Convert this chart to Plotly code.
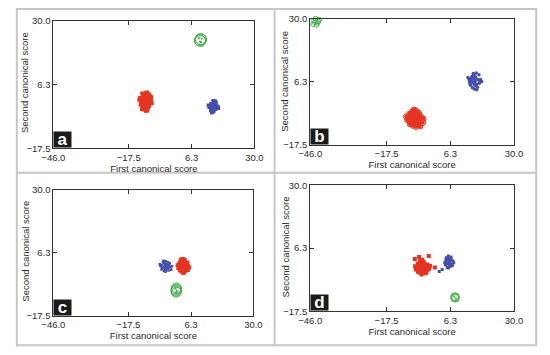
import plotly.graph_objects as go

# ---------------- data (canonical scores) ----------------
TICK_VALS = [-46.0, -17.5, 6.3, 30.0]
TICK_TEXT = ["\u221246.0", "\u221217.5", "6.3", "30.0"]
X_RANGE = [-46.0, 30.0]
Y_RANGE = [-17.5, 30.0]
PANEL_LABELS = ["a", "b", "c", "d"]
X_TITLE = "First canonical score"
Y_TITLE = "Second canonical score"

# panel a
A_RED_X = [-11.0,-10.2,-11.8,-12.3,-9.6,-10.8,-11.5,-12.9,-9.2,-10.4,-11.2,-12.0,-10.0,-11.6,-9.9,-12.6,-10.6,-11.4,-10.9,-9.4,-13.2,-11.9,-10.3,-12.2,-9.7,-11.1,-10.7,-12.8,-9.1,-11.3,-10.5,-12.4,-11.7,-9.8,-10.1,-13.5,-8.8,-11.0,-12.1,-10.6,-13.0,-9.0,-11.5,-10.2,-12.5]
A_RED_Y = [0.2,1.1,-0.6,0.8,-0.4,2.0,-1.5,0.3,0.9,-1.0,1.6,-0.2,0.0,2.6,-1.8,-0.9,0.5,-2.2,3.1,1.8,1.2,2.2,-2.5,-1.9,-1.2,0.7,-0.3,-0.5,0.1,1.4,-3.4,2.9,-2.9,2.5,-1.6,0.6,-0.7,-3.5,1.9,3.3,-1.3,1.5,-2.7,2.4,-2.9]
A_BLUE_X = [14.5,15.2,13.8,14.1,15.6,13.3,14.9,14.0,15.9,13.6,14.7,15.3,12.9,14.4,16.2,13.9,15.0,14.2,13.5,15.5,14.8,12.6,16.4,14.3,15.1]
A_BLUE_Y = [-2.0,-1.4,-2.6,-1.1,-2.4,-1.8,-0.6,-3.1,-1.7,-0.9,-3.6,-2.9,-2.2,0.2,-2.0,-4.2,-1.0,-1.6,-3.4,-0.3,-2.7,-1.5,-2.6,-4.0,0.1]
A_GREEN_X = [9.4,9.8,9.6,9.7]
A_GREEN_Y = [22.6,23.0,22.4,23.1]
A_GREEN_IN_X = [9.0,10.1,9.5,9.9]
A_GREEN_IN_Y = [23.4,23.3,22.1,22.0]

# panel b
B_RED_X = [-7.1,-6.2,-8.0,-8.6,-5.7,-7.5,-6.8,-9.3,-5.2,-7.9,-6.5,-8.3,-7.3,-6.0,-9.8,-4.6,-7.7,-6.9,-8.9,-5.5,-7.0,-6.4,-8.5,-5.9,-7.6,-10.2,-4.0,-6.7,-8.1,-5.0,-7.4,-9.0,-6.1,-3.8,-8.8,-7.2,-6.6,-9.5,-5.3,-7.8]
B_RED_Y = [-7.6,-6.9,-8.3,-7.0,-8.0,-5.8,-9.1,-7.5,-6.6,-9.6,-7.9,-6.2,-6.8,-9.4,-8.2,-7.2,-10.3,-5.2,-9.0,-5.6,-8.7,-4.9,-7.4,-10.0,-4.6,-6.9,-9.3,-8.5,-5.4,-10.6,-7.1,-5.9,-6.3,-7.8,-9.8,-4.4,-10.8,-7.3,-8.9,-6.0]
B_BLUE_X = [15.4,16.2,14.6,14.0,17.0,15.0,16.6,13.4,15.8,14.3,17.5,15.2,16.0,13.8,14.8,17.9,12.8,15.6,16.4,14.1,15.3,16.9,13.2,14.5,15.9,17.2,13.6,16.1,14.9,15.1]
B_BLUE_Y = [6.4,7.1,5.8,7.5,5.6,8.6,6.9,6.1,4.8,8.2,7.0,3.5,5.2,4.9,9.3,6.3,7.8,8.0,4.1,6.6,5.0,8.8,7.0,3.9,9.5,5.9,5.3,3.2,7.3,6.0]
B_GREEN_X = [-44.6,-43.2,-44.0,-42.6,-44.9,-43.6,-42.9,-44.3]
B_GREEN_Y = [29.3,28.4,30.0,29.6,27.9,27.6,28.9,28.6]

# panel c
C_RED_X = [3.4,4.1,2.7,2.2,4.6,3.0,3.8,1.8,5.0,2.5,3.6,4.3,2.0,3.2,4.8,2.9,3.9,1.5,5.3,3.5,2.4,4.4,3.1,1.9,4.0,5.6,2.6,3.3,4.7,2.1,3.7,1.2,4.9,2.8,3.0,4.2,3.6,2.3,5.1,3.9]
C_RED_Y = [1.4,2.0,0.7,1.8,0.9,2.8,-0.1,1.1,1.6,-0.4,3.4,0.3,2.6,-0.9,2.3,1.0,3.0,0.5,1.2,-1.3,3.8,0.0,1.9,2.1,-0.6,0.8,1.3,4.0,1.5,-0.2,0.6,1.7,2.7,3.2,-1.0,2.4,1.1,0.4,-0.1,3.6]
C_BLUE_X = [-3.5,-2.8,-4.2,-4.7,-2.3,-3.9,-3.1,-5.1,-2.0,-3.6,-4.4,-2.6,-3.3,-4.9,-1.8,-3.0,-4.0,-2.5,-3.8,-5.4,-1.5,-3.4,-4.6,-2.2,-3.7,-0.9,-1.2,-4.1,-2.9,-5.6]
C_BLUE_Y = [1.4,2.1,0.8,1.9,0.6,2.6,-0.2,1.2,1.7,0.3,2.9,1.0,3.2,0.1,2.4,1.5,-0.5,2.8,1.1,1.6,0.9,-0.8,0.4,-0.3,2.2,1.3,0.0,3.4,0.5,2.0]
C_GREEN_X = [0.7,0.7,0.6,0.8,0.6]
C_GREEN_Y = [-6.9,-8.5,-7.7,-7.3,-8.1]
C_GREEN_IN_X = [0.4,0.9,0.6]
C_GREEN_IN_Y = [-7.2,-8.0,-8.6]

# panel d
D_RED_X = [-4.2,-3.5,-4.9,-5.5,-2.8,-4.6,-3.9,-6.1,-2.4,-4.0,-5.2,-3.2,-4.4,-5.8,-2.0,-3.7,-4.8,-1.6,-6.6,-4.1,-3.0,-5.0,-3.4,-5.9,-2.6,-4.5,-6.9,-3.8,-1.3,-5.3,-4.3,-2.2,-5.6,-3.6,-4.7,-5.4,-1.8,-7.0,0.5]
D_RED_Y = [-0.9,-0.2,-1.6,-0.4,-1.2,0.5,-2.2,-1.0,0.1,-3.0,0.9,-2.0,-0.6,-2.6,-0.8,1.3,-0.1,-1.5,-1.8,-2.5,-3.2,1.6,0.3,0.4,-2.8,-3.6,-0.5,-1.1,-0.3,-2.9,1.9,-1.9,-1.3,-2.4,0.8,3.0,3.3,2.2,-1.0]
D_BLUE_X = [5.7,6.3,5.0,4.6,6.8,5.4,6.0,4.2,7.2,5.2,6.5,5.9,4.9,6.2,5.5,7.5,4.4,5.8,6.6,5.1,6.1,5.3,7.0,4.7,5.6,2.1,3.2]
D_BLUE_Y = [1.1,1.8,0.5,1.6,0.2,2.5,-0.2,0.9,1.4,-0.8,3.0,0.6,2.2,-0.5,3.3,0.8,0.0,1.3,2.0,-1.0,0.4,1.9,-0.3,2.7,-1.2,-2.5,-1.8]
D_GREEN_X = [8.0,8.2,7.8]
D_GREEN_Y = [-12.0,-12.5,-12.4]
D_GREEN_IN_X = [7.7,8.3]
D_GREEN_IN_Y = [-11.9,-12.7]

# ---------------- styling ----------------
W, H = 550, 355
RED = "rgb(228,52,34)"
BLUE = "rgb(68,78,168)"
GREEN = "rgb(70,175,75)"
TXT = "#2a2a2a"
FONT = "Liberation Sans, Arial, sans-serif"
FS = 9.5

# plot-area pixel boxes: (left, top, right, bottom)
BOXES = [(43, 15, 252, 147), (310, 13, 522, 143), (43, 190, 251, 320), (310, 185, 522, 315)]
# y-title centre positions in pixels (x, y)
YT_POS = [(13, 79), (283, 78), (14, 253), (284, 249)]

fig = go.Figure()


def add(xs, ys, k, symbol, size, color, lw=0, clip=True, opacity=1.0):
    sfx = "" if k == 0 else str(k + 1)
    fig.add_trace(go.Scatter(
        x=xs, y=ys, mode="markers", xaxis="x" + sfx, yaxis="y" + sfx,
        cliponaxis=clip, opacity=opacity, showlegend=False, hoverinfo="skip",
        marker=dict(symbol=symbol, size=size, color=color,
                    line=dict(width=lw, color=color))))


# a
add(A_RED_X, A_RED_Y, 0, "square", 4, RED)
add(A_BLUE_X, A_BLUE_Y, 0, "square", 3.5, BLUE)
add(A_GREEN_X, A_GREEN_Y, 0, "circle-open", 11, GREEN, lw=1)
add(A_GREEN_IN_X, A_GREEN_IN_Y, 0, "square", 2, GREEN)
# b
add(B_RED_X, B_RED_Y, 1, "circle", 4, RED)
add(B_RED_X, B_RED_Y, 1, "circle-open", 5.5, RED, lw=1)
add(B_BLUE_X, B_BLUE_Y, 1, "circle", 3.5, BLUE)
add(B_GREEN_X, B_GREEN_Y, 1, "circle-open", 4.5, GREEN, lw=1, clip=False)
# c
add(C_RED_X, C_RED_Y, 2, "square", 4, RED)
add(C_BLUE_X, C_BLUE_Y, 2, "square", 2.5, BLUE)
add(C_GREEN_X, C_GREEN_Y, 2, "circle-open", 10, GREEN, lw=1)
add(C_GREEN_IN_X, C_GREEN_IN_Y, 2, "square", 2, GREEN)
# d
add(D_RED_X, D_RED_Y, 3, "square", 4, RED)
add(D_BLUE_X, D_BLUE_Y, 3, "square", 3, BLUE)
add(D_GREEN_X, D_GREEN_Y, 3, "circle-open", 8, GREEN, lw=1)
add(D_GREEN_IN_X, D_GREEN_IN_Y, 3, "square", 2, GREEN)

layout = dict(
    width=W, height=H, margin=dict(l=0, r=0, t=0, b=0),
    paper_bgcolor="white", plot_bgcolor="white",
    font=dict(family=FONT, size=FS, color=TXT),
    showlegend=False,
)

axis_common = dict(
    showgrid=False, zeroline=False, showline=True, linecolor="#333", linewidth=1,
    mirror="ticks", ticks="inside", ticklen=4, tickcolor="#333", tickwidth=1,
    tickmode="array", tickvals=TICK_VALS, ticktext=TICK_TEXT,
    tickfont=dict(family=FONT, size=FS, color=TXT),
)

annotations = []
shapes = []
for k, (l, t, r, b) in enumerate(BOXES):
    sfx = "" if k == 0 else str(k + 1)
    layout["xaxis" + sfx] = dict(
        axis_common, domain=[l / W, r / W], range=X_RANGE, anchor="y" + sfx,
        title=dict(text=X_TITLE, font=dict(family=FONT, size=FS, color=TXT), standoff=2))
    layout["yaxis" + sfx] = dict(
        axis_common, domain=[1 - b / H, 1 - t / H], range=Y_RANGE, anchor="x" + sfx)
    tx, ty = YT_POS[k]
    annotations.append(dict(
        text=Y_TITLE, xref="paper", yref="paper", x=tx / W, y=1 - ty / H,
        xanchor="center", yanchor="middle", textangle=-90, showarrow=False,
        font=dict(family=FONT, size=FS, color=TXT)))
    annotations.append(dict(
        text="<b>%s</b>" % PANEL_LABELS[k], xref="x%s domain" % sfx, yref="y%s domain" % sfx,
        x=0, y=0, xanchor="left", yanchor="bottom", showarrow=False,
        bgcolor="#1b1b1b", width=17, height=15, borderpad=0, align="center", valign="middle",
        font=dict(family=FONT, size=17, color="white")))

# panel frames (light grey)
GREY = "#c6c6c6"
shapes.append(dict(type="rect", xref="paper", yref="paper", x0=5 / W, x1=545 / W,
                   y0=1 - 350 / H, y1=1 - 3 / H, line=dict(color=GREY, width=2)))
shapes.append(dict(type="line", xref="paper", yref="paper", x0=273 / W, x1=273 / W,
                   y0=1 - 350 / H, y1=1 - 3 / H, line=dict(color=GREY, width=2)))
shapes.append(dict(type="line", xref="paper", yref="paper", x0=5 / W, x1=545 / W,
                   y0=1 - 172 / H, y1=1 - 172 / H, line=dict(color=GREY, width=2)))

layout["annotations"] = annotations
layout["shapes"] = shapes
fig.update_layout(**layout)
fig.write_html("out.html", config={"displayModeBar": False},
               post_script="document.body.style.margin='0px';")
